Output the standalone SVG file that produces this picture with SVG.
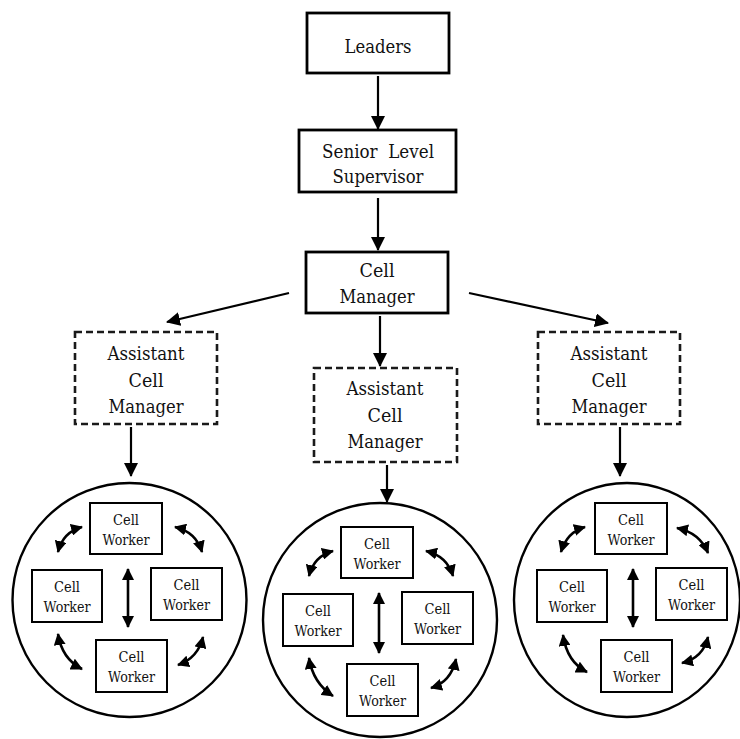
<svg xmlns="http://www.w3.org/2000/svg" width="740" height="739" viewBox="0 0 740 739">
<style>
.bx{fill:#fff;stroke:#000;stroke-width:2.8}
.dbx{fill:#fff;stroke:#1a1a1a;stroke-width:2.6;stroke-dasharray:7,4}
.wbx{fill:#fff;stroke:#000;stroke-width:2}
.t{font-family:'DejaVu Serif','Liberation Serif',serif;font-size:19px;fill:#111;text-anchor:middle}
.ts{font-family:'DejaVu Serif','Liberation Serif',serif;font-size:14px;fill:#111;text-anchor:middle}
.c{fill:none;stroke:#000;stroke-width:2.4}
.ln{fill:none;stroke:#000;stroke-width:2.2;marker-end:url(#ah)}
.dl{fill:none;stroke:#000;stroke-width:2.6;marker-start:url(#sh);marker-end:url(#sh)}
</style>
<defs>
<marker id="ah" viewBox="0 0 14 14" refX="13" refY="7" markerWidth="14" markerHeight="14" markerUnits="userSpaceOnUse" orient="auto-start-reverse"><path d="M0,0 L14,7 L0,14 z" fill="#000"/></marker>
<marker id="sh" viewBox="0 0 12 12" refX="11" refY="6" markerWidth="12" markerHeight="12" markerUnits="userSpaceOnUse" orient="auto-start-reverse"><path d="M0,0 L12,6 L0,12 z" fill="#000"/></marker>
</defs>
<rect width="740" height="739" fill="#fff"/>
<g id="connectors">
<line class="ln" x1="378" y1="76" x2="378" y2="129"/>
<line class="ln" x1="378" y1="198" x2="378" y2="250"/>
<line class="ln" x1="289" y1="293" x2="167" y2="322"/>
<line class="ln" x1="380" y1="316" x2="380" y2="366"/>
<line class="ln" x1="469" y1="293" x2="608" y2="323"/>
<line class="ln" x1="131" y1="427" x2="131" y2="476"/>
<line class="ln" x1="387" y1="465" x2="387" y2="502"/>
<line class="ln" x1="620" y1="427" x2="620" y2="476"/>
</g>
<g id="leaders"><rect class="bx" x="307" y="13" width="142" height="60"/><text class="t" x="378" y="53" textLength="67" lengthAdjust="spacingAndGlyphs">Leaders</text></g>
<g id="senior"><rect class="bx" x="299" y="130" width="157" height="62"/><text class="t" x="378" y="158" xml:space="preserve" textLength="112" lengthAdjust="spacingAndGlyphs">Senior  Level</text><text class="t" x="378" y="183" textLength="91" lengthAdjust="spacingAndGlyphs">Supervisor</text></g>
<g id="cellmanager"><rect class="bx" x="306" y="252" width="142" height="61"/><text class="t" x="377" y="277" textLength="35" lengthAdjust="spacingAndGlyphs">Cell</text><text class="t" x="377" y="303" textLength="75" lengthAdjust="spacingAndGlyphs">Manager</text></g>
<g id="asst-left"><rect class="dbx" x="75" y="332" width="142" height="92"/><text class="t" x="146" y="360" textLength="77" lengthAdjust="spacingAndGlyphs">Assistant</text><text class="t" x="146" y="387" textLength="35" lengthAdjust="spacingAndGlyphs">Cell</text><text class="t" x="146" y="413" textLength="75" lengthAdjust="spacingAndGlyphs">Manager</text></g>
<g id="asst-mid"><rect class="dbx" x="314" y="368" width="143" height="94"/><text class="t" x="385" y="395" textLength="77" lengthAdjust="spacingAndGlyphs">Assistant</text><text class="t" x="385" y="422" textLength="35" lengthAdjust="spacingAndGlyphs">Cell</text><text class="t" x="385" y="448" textLength="75" lengthAdjust="spacingAndGlyphs">Manager</text></g>
<g id="asst-right"><rect class="dbx" x="538" y="332" width="142" height="92"/><text class="t" x="609" y="360" textLength="77" lengthAdjust="spacingAndGlyphs">Assistant</text><text class="t" x="609" y="387" textLength="35" lengthAdjust="spacingAndGlyphs">Cell</text><text class="t" x="609" y="413" textLength="75" lengthAdjust="spacingAndGlyphs">Manager</text></g>
<g id="circle-left"><circle class="c" cx="129.5" cy="600" r="117"/></g>
<g id="circle-mid"><circle class="c" cx="380" cy="620" r="117"/></g>
<g id="circle-right"><ellipse class="c" cx="627" cy="600" rx="113" ry="117"/></g>
<g id="team-left">
<g id="w-l-top"><rect class="wbx" x="90" y="503" width="72" height="51"/><text class="ts" x="126" y="525" textLength="26" lengthAdjust="spacingAndGlyphs">Cell</text><text class="ts" x="126" y="545" textLength="47" lengthAdjust="spacingAndGlyphs">Worker</text></g>
<g id="w-l-left"><rect class="wbx" x="32" y="570" width="70" height="52"/><text class="ts" x="67" y="592" textLength="26" lengthAdjust="spacingAndGlyphs">Cell</text><text class="ts" x="67" y="612" textLength="47" lengthAdjust="spacingAndGlyphs">Worker</text></g>
<g id="w-l-right"><rect class="wbx" x="151" y="568" width="71" height="52"/><text class="ts" x="186.5" y="590" textLength="26" lengthAdjust="spacingAndGlyphs">Cell</text><text class="ts" x="186.5" y="610" textLength="47" lengthAdjust="spacingAndGlyphs">Worker</text></g>
<g id="w-l-bottom"><rect class="wbx" x="96" y="640" width="71" height="52"/><text class="ts" x="131.5" y="662" textLength="26" lengthAdjust="spacingAndGlyphs">Cell</text><text class="ts" x="131.5" y="682" textLength="47" lengthAdjust="spacingAndGlyphs">Worker</text></g>
<g id="team-left-connectors">
<line class="dl" x1="128" y1="569" x2="128" y2="627"/>
<path class="dl" d="M58,552 Q63,532 82,527"/>
<path class="dl" d="M175,527 Q196,532 202,552"/>
<path class="dl" d="M58,634 Q62,659 82,669"/>
<path class="dl" d="M203,637 Q198,658 178,665"/>
</g>
</g>
<g id="team-mid" transform="translate(251,24)">
<g id="w-m-top"><rect class="wbx" x="90" y="503" width="72" height="51"/><text class="ts" x="126" y="525" textLength="26" lengthAdjust="spacingAndGlyphs">Cell</text><text class="ts" x="126" y="545" textLength="47" lengthAdjust="spacingAndGlyphs">Worker</text></g>
<g id="w-m-left"><rect class="wbx" x="32" y="570" width="70" height="52"/><text class="ts" x="67" y="592" textLength="26" lengthAdjust="spacingAndGlyphs">Cell</text><text class="ts" x="67" y="612" textLength="47" lengthAdjust="spacingAndGlyphs">Worker</text></g>
<g id="w-m-right"><rect class="wbx" x="151" y="568" width="71" height="52"/><text class="ts" x="186.5" y="590" textLength="26" lengthAdjust="spacingAndGlyphs">Cell</text><text class="ts" x="186.5" y="610" textLength="47" lengthAdjust="spacingAndGlyphs">Worker</text></g>
<g id="w-m-bottom"><rect class="wbx" x="96" y="640" width="71" height="52"/><text class="ts" x="131.5" y="662" textLength="26" lengthAdjust="spacingAndGlyphs">Cell</text><text class="ts" x="131.5" y="682" textLength="47" lengthAdjust="spacingAndGlyphs">Worker</text></g>
<g id="team-mid-connectors">
<line class="dl" x1="128" y1="569" x2="128" y2="629"/>
<path class="dl" d="M58,552 Q63,532 82,527"/>
<path class="dl" d="M175,527 Q196,532 202,552"/>
<path class="dl" d="M58,634 Q62,659 82,672"/>
<path class="dl" d="M205,635 Q200,658 180,664"/>
</g>
</g>
<g id="team-right" transform="translate(505,0)">
<g id="w-r-top"><rect class="wbx" x="90" y="503" width="72" height="51"/><text class="ts" x="126" y="525" textLength="26" lengthAdjust="spacingAndGlyphs">Cell</text><text class="ts" x="126" y="545" textLength="47" lengthAdjust="spacingAndGlyphs">Worker</text></g>
<g id="w-r-left"><rect class="wbx" x="32" y="570" width="70" height="52"/><text class="ts" x="67" y="592" textLength="26" lengthAdjust="spacingAndGlyphs">Cell</text><text class="ts" x="67" y="612" textLength="47" lengthAdjust="spacingAndGlyphs">Worker</text></g>
<g id="w-r-right"><rect class="wbx" x="151" y="568" width="71" height="52"/><text class="ts" x="186.5" y="590" textLength="26" lengthAdjust="spacingAndGlyphs">Cell</text><text class="ts" x="186.5" y="610" textLength="47" lengthAdjust="spacingAndGlyphs">Worker</text></g>
<g id="w-r-bottom"><rect class="wbx" x="96" y="640" width="71" height="52"/><text class="ts" x="131.5" y="662" textLength="26" lengthAdjust="spacingAndGlyphs">Cell</text><text class="ts" x="131.5" y="682" textLength="47" lengthAdjust="spacingAndGlyphs">Worker</text></g>
<g id="team-right-connectors">
<line class="dl" x1="128" y1="569" x2="128" y2="627"/>
<path class="dl" d="M56,552 Q62,532 80,527"/>
<path class="dl" d="M172,528 Q195,533 203,553"/>
<path class="dl" d="M58,635 Q62,662 82,672"/>
<path class="dl" d="M203,637 Q198,658 177,663"/>
</g>
</g>
</svg>
